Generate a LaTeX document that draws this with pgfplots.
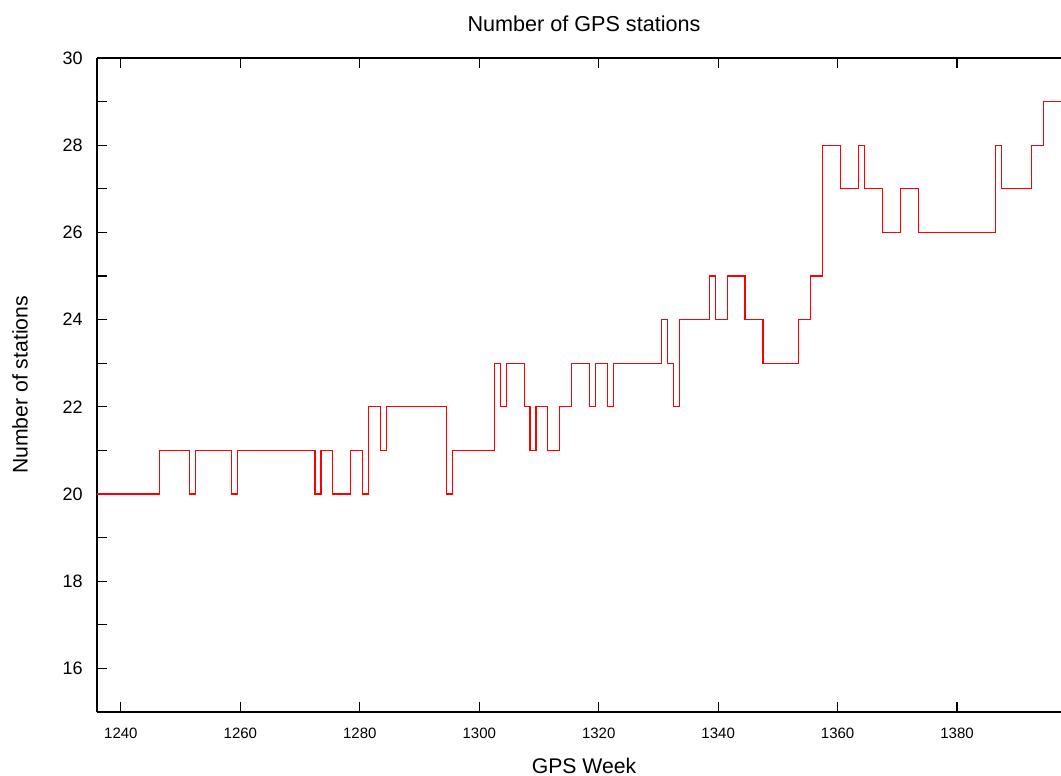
\documentclass[border=0pt]{standalone}
\usepackage{fontspec}
\setmainfont{Liberation Sans}
\usepackage{pgfplots}
\pgfplotsset{compat=1.18}
\usetikzlibrary{calc}

\begin{document}
\begin{tikzpicture}
\begin{axis}[
    scale only axis, width=482pt, height=327pt,
    xmin=1236, xmax=1397.4, ymin=15, ymax=30,
    axis x line*=box, axis y line*=left,
    x axis line style={-}, y axis line style={-},
    axis line style={line width=0.6pt},
    xtick={1240,1260,...,1380},
    ytick={16,18,...,30},
    minor ytick={15,17,...,29},
    tick align=inside,
    major tick length=5pt, minor tick length=5pt,
    tick style={black, line width=0.6pt},
    /pgf/number format/assume math mode=true,
    /pgf/number format/1000 sep={},
    xticklabel style={font=\fontsize{7.5}{9}\selectfont, anchor=base, inner sep=0pt, yshift=-13.5pt},
    yticklabel style={font=\fontsize{9}{11}\selectfont, anchor=east, inner sep=0pt, xshift=-7pt},
    title={Number of GPS stations},
    title style={font=\fontsize{10.8}{13}\selectfont, at={(axis description cs:0.5,1)}, anchor=base, yshift=7pt, xshift=2.5pt},
    xlabel={GPS Week},
    xlabel style={font=\fontsize{10.6}{13}\selectfont, at={(axis description cs:0.5,0)}, anchor=base, yshift=-31pt, xshift=2.5pt},
    ylabel={Number of stations},
    ylabel style={font=\fontsize{10.6}{13}\selectfont, at={(axis description cs:0,0.5)}, anchor=center, yshift=38.5pt},
]
\addplot[const plot, red, line width=0.55pt, no marks] coordinates {
    (1236,20) (1246.5,21) (1251.5,20) (1252.5,21) (1258.5,20) (1259.5,21)
    (1272.5,20) (1273.5,21) (1275.5,20) (1278.5,21) (1280.5,20) (1281.5,22)
    (1283.5,21) (1284.5,22) (1294.5,20) (1295.5,21) (1302.5,23) (1303.5,22)
    (1304.5,23) (1307.5,22) (1308.5,21) (1309.5,22) (1311.5,21) (1313.5,22)
    (1315.5,23) (1318.5,22) (1319.5,23) (1321.5,22) (1322.5,23) (1330.5,24)
    (1331.5,23) (1332.5,22) (1333.5,24) (1338.5,25) (1339.5,24) (1341.5,25)
    (1344.5,24) (1347.5,23) (1353.5,24) (1355.5,25) (1357.5,28) (1360.5,27)
    (1363.5,28) (1364.5,27) (1367.5,26) (1370.5,27) (1373.5,26) (1386.5,28)
    (1387.5,27) (1392.5,28) (1394.5,29) (1397.4,29)
};
\end{axis}
\pgfresetboundingbox
\path[use as bounding box] ($(current axis.south west)+(-48.5pt,-32pt)$) rectangle ($(current axis.north east)+(0pt,29pt)$);
\end{tikzpicture}
\end{document}
